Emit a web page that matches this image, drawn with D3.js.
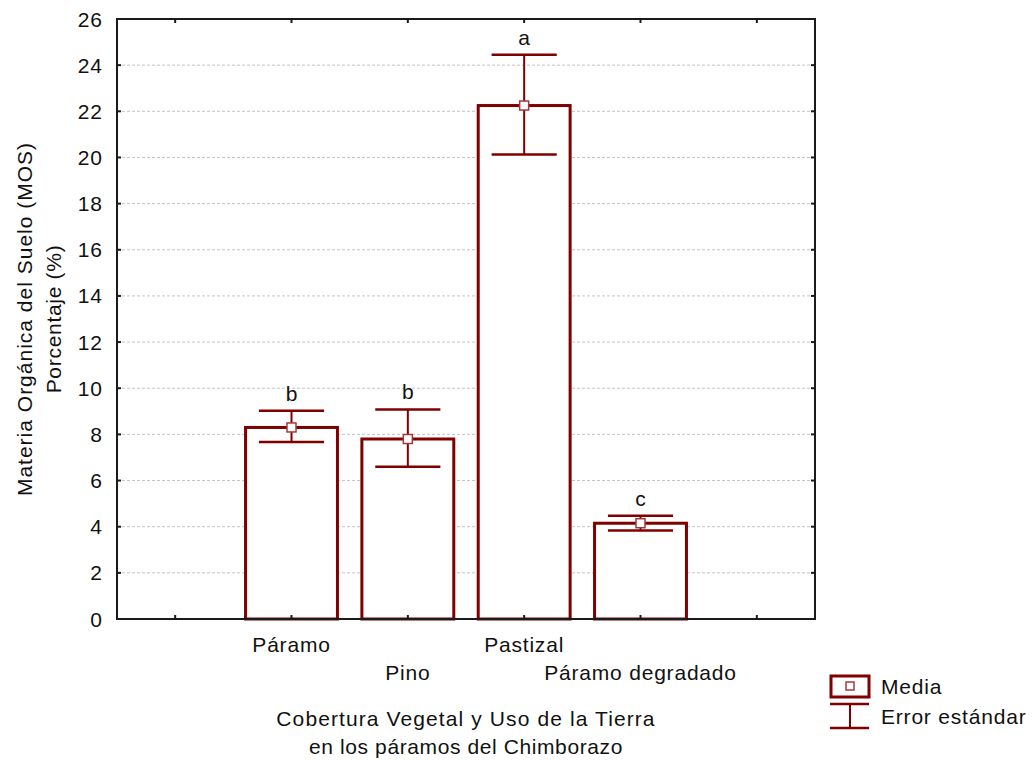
<!DOCTYPE html>
<html>
<head>
<meta charset="utf-8">
<script src="https://cdn.jsdelivr.net/npm/d3@7"></script>
<style>
  body { margin: 0; background: #fff; }
  svg text { font-family: "Liberation Sans", Arial, sans-serif; fill: #111; }
</style>
</head>
<body>
<svg id="chart" width="1033" height="760"></svg>
<script>
// data
const categories = ['Páramo', 'Pino', 'Pastizal', 'Páramo degradado'];
const means = [8.3, 7.8, 22.25, 4.15];
const err_low = [7.67, 6.6, 20.13, 3.83];
const err_high = [9.02, 9.08, 24.45, 4.47];
const groups = ['b', 'b', 'a', 'c'];
const y_ticks = [0, 2, 4, 6, 8, 10, 12, 14, 16, 18, 20, 22, 24, 26];

const dark_red = '#800000';
const font_size = 21;

const margin = { top: 19, bottom: 141, left: 117, right: 218 };
const width = 1033;
const height = 760;

const svg = d3.select('#chart');

// 6 slots along x, the 4 categories sit in slots 1..4
const n_slots = 6;
const xSlot = d3.scaleLinear()
  .domain([0, n_slots])
  .range([margin.left, width - margin.right]);

const yScale = d3.scaleLinear()
  .domain([0, 26])
  .range([height - margin.bottom, margin.top]);

const slot_w = xSlot(1) - xSlot(0);
const bar_w = slot_w * 0.79;
const cap_w = slot_w * 0.56;
const cx = (i) => xSlot(i + 1.5);

/**
 * grid lines
 */
svg.append('g')
  .selectAll('line')
  .data(y_ticks.filter((d) => d > 0 && d < 26))
  .enter()
  .append('line')
  .attr('x1', margin.left)
  .attr('x2', width - margin.right)
  .attr('y1', (d) => yScale(d))
  .attr('y2', (d) => yScale(d))
  .attr('stroke', '#c4c4c4')
  .attr('stroke-width', 1)
  .attr('stroke-dasharray', '3,2');

/**
 * bars
 */
svg.append('g')
  .selectAll('rect')
  .data(means)
  .enter()
  .append('rect')
  .attr('x', (d, i) => cx(i) - bar_w / 2)
  .attr('y', (d) => yScale(d))
  .attr('width', bar_w)
  .attr('height', (d) => yScale(0) - yScale(d))
  .attr('fill', '#fff')
  .attr('stroke', dark_red)
  .attr('stroke-width', 3);

/**
 * error bars
 */
const g_err = svg.append('g');
means.forEach((m, i) => {
  const x = cx(i);
  g_err.append('line')
    .attr('x1', x).attr('x2', x)
    .attr('y1', yScale(err_high[i])).attr('y2', yScale(err_low[i]))
    .attr('stroke', dark_red).attr('stroke-width', 2);
  [err_low[i], err_high[i]].forEach((v) => {
    g_err.append('line')
      .attr('x1', x - cap_w / 2).attr('x2', x + cap_w / 2)
      .attr('y1', yScale(v)).attr('y2', yScale(v))
      .attr('stroke', dark_red).attr('stroke-width', 2.5);
  });
  g_err.append('rect')
    .attr('x', x - 4.5).attr('y', yScale(m) - 4.5)
    .attr('width', 9).attr('height', 9)
    .attr('fill', '#fff')
    .attr('stroke', '#a33a3a').attr('stroke-width', 1.5);
  g_err.append('text')
    .attr('x', x)
    .attr('y', yScale(err_high[i]) - 10)
    .attr('text-anchor', 'middle')
    .attr('font-size', font_size)
    .text(groups[i]);
});

/**
 * frame and ticks
 */
const x0 = margin.left, x1 = width - margin.right;
const y0 = yScale(0), y1 = yScale(26);
svg.append('rect')
  .attr('x', x0).attr('y', y1)
  .attr('width', x1 - x0).attr('height', y0 - y1)
  .attr('fill', 'none')
  .attr('stroke', '#1a1a1a')
  .attr('stroke-width', 2);

const tick_len = 4;
const x_tick_pos = d3.range(n_slots).map((k) => xSlot(k + 0.5));
const g_ticks = svg.append('g').attr('stroke', '#1a1a1a').attr('stroke-width', 2);
x_tick_pos.forEach((x) => {
  g_ticks.append('line').attr('x1', x).attr('x2', x).attr('y1', y0).attr('y2', y0 - tick_len);
  g_ticks.append('line').attr('x1', x).attr('x2', x).attr('y1', y1).attr('y2', y1 + tick_len);
});
y_ticks.forEach((v) => {
  const y = yScale(v);
  g_ticks.append('line').attr('x1', x0).attr('x2', x0 + tick_len).attr('y1', y).attr('y2', y);
  g_ticks.append('line').attr('x1', x1).attr('x2', x1 - tick_len).attr('y1', y).attr('y2', y);
});

/**
 * y tick labels
 */
svg.append('g')
  .selectAll('text')
  .data(y_ticks)
  .enter()
  .append('text')
  .attr('x', x0 - 14)
  .attr('y', (d) => yScale(d))
  .attr('dy', '0.36em')
  .attr('text-anchor', 'end')
  .attr('font-size', font_size)
  .attr('letter-spacing', 1)
  .text((d) => d);

/**
 * x category labels, staggered
 */
svg.append('g')
  .selectAll('text')
  .data(categories)
  .enter()
  .append('text')
  .attr('x', (d, i) => cx(i))
  .attr('y', (d, i) => (i % 2 === 0 ? 652 : 680))
  .attr('text-anchor', 'middle')
  .attr('font-size', font_size)
  .attr('letter-spacing', 0.8)
  .text((d) => d);

/**
 * axis titles
 */
const x_mid = (x0 + x1) / 2;
svg.append('text')
  .attr('x', x_mid).attr('y', 726)
  .attr('text-anchor', 'middle')
  .attr('font-size', font_size)
  .attr('letter-spacing', 1.1)
  .text('Cobertura Vegetal y Uso de la Tierra');
svg.append('text')
  .attr('x', x_mid).attr('y', 754)
  .attr('text-anchor', 'middle')
  .attr('font-size', font_size)
  .attr('letter-spacing', 0.6)
  .text('en los páramos del Chimborazo');

const y_mid = (y0 + y1) / 2;
svg.append('text')
  .attr('transform', `translate(32,${y_mid}) rotate(-90)`)
  .attr('text-anchor', 'middle')
  .attr('font-size', font_size)
  .attr('letter-spacing', 1)
  .text('Materia Orgánica del Suelo (MOS)');
svg.append('text')
  .attr('transform', `translate(61,${y_mid}) rotate(-90)`)
  .attr('text-anchor', 'middle')
  .attr('font-size', font_size)
  .attr('letter-spacing', 0.7)
  .text('Porcentaje (%)');

/**
 * legend
 */
const lg = svg.append('g');
lg.append('rect')
  .attr('x', 831).attr('y', 676).attr('width', 38).attr('height', 21)
  .attr('fill', '#fff').attr('stroke', dark_red).attr('stroke-width', 3);
lg.append('rect')
  .attr('x', 846).attr('y', 682).attr('width', 8).attr('height', 8)
  .attr('fill', '#fff').attr('stroke', '#a33a3a').attr('stroke-width', 1.5);
lg.append('line').attr('x1', 830).attr('x2', 869).attr('y1', 704).attr('y2', 704)
  .attr('stroke', dark_red).attr('stroke-width', 2.5);
lg.append('line').attr('x1', 830).attr('x2', 869).attr('y1', 728).attr('y2', 728)
  .attr('stroke', dark_red).attr('stroke-width', 2.5);
lg.append('line').attr('x1', 850).attr('x2', 850).attr('y1', 704).attr('y2', 728)
  .attr('stroke', dark_red).attr('stroke-width', 2);
lg.append('text').attr('x', 881).attr('y', 694)
  .attr('font-size', font_size).attr('letter-spacing', 0.8).text('Media');
lg.append('text').attr('x', 881).attr('y', 724)
  .attr('font-size', font_size).attr('letter-spacing', 0.8).text('Error estándar');
</script>
</body>
</html>
